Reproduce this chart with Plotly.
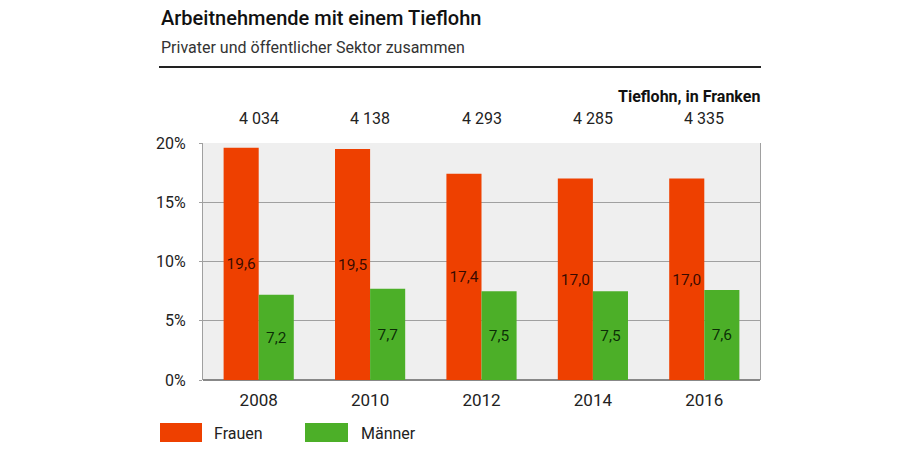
import plotly.graph_objects as go

years = ["2008", "2010", "2012", "2014", "2016"]
frauen = [19.6, 19.5, 17.4, 17.0, 17.0]
maenner = [7.2, 7.7, 7.5, 7.5, 7.6]
tieflohn = ["4 034", "4 138", "4 293", "4 285", "4 335"]
y_ticks = [0, 5, 10, 15, 20]
y_ticklabels = ["0%", "5%", "10%", "15%", "20%"]

ORANGE = "#ee4000"
GREEN = "#4caf28"
FONT = "Roboto"

def fmt(v):
    return f"{v:.1f}".replace(".", ",")

fig = go.Figure()
fig.add_trace(go.Bar(
    x=years, y=frauen, name="Frauen", marker_color=ORANGE, marker_line_width=0,
    text=[fmt(v) for v in frauen], textposition="inside", insidetextanchor="middle",
    textfont=dict(color="rgba(20,0,0,0.85)", size=16, family=FONT), textangle=0,
))
fig.add_trace(go.Bar(
    x=years, y=maenner, name="Männer", marker_color=GREEN, marker_line_width=0,
    text=[fmt(v) for v in maenner], textposition="inside", insidetextanchor="middle",
    textfont=dict(color="rgba(0,20,0,0.85)", size=16, family=FONT), textangle=0,
))

L, R, T, B = 203, 140, 143, 70
W, H = 900, 450
pw, ph = W - L - R, H - T - B

def px(xp):
    return (xp - L) / pw

def py(yp):
    return (H - B - yp) / ph

annotations = [
    dict(text="Arbeitnehmende mit einem Tieflohn", x=px(159), y=py(18), xref="paper", yref="paper",
         showarrow=False, xanchor="left", yanchor="middle",
         font=dict(size=20, family=FONT, color="#111", weight=500)),
    dict(text="Privater und öffentlicher Sektor zusammen", x=px(159), y=py(47), xref="paper", yref="paper",
         showarrow=False, xanchor="left", yanchor="middle", font=dict(size=16, family=FONT, color="#333")),
    dict(text="<b>Tieflohn, in Franken</b>", x=px(762), y=py(97), xref="paper", yref="paper",
         showarrow=False, xanchor="right", yanchor="middle", font=dict(size=16, family=FONT, color="#111")),
    dict(text="Frauen", x=px(212), y=py(433), xref="paper", yref="paper",
         showarrow=False, xanchor="left", yanchor="middle", font=dict(size=16, family=FONT, color="#222")),
    dict(text="Männer", x=px(359), y=py(433), xref="paper", yref="paper",
         showarrow=False, xanchor="left", yanchor="middle", font=dict(size=16, family=FONT, color="#222")),
]
for i, t in enumerate(tieflohn):
    annotations.append(dict(text=t, x=i, y=py(119), xref="x", yref="paper", showarrow=False,
                            xanchor="center", yanchor="middle", font=dict(size=16, family=FONT, color="#222")))

shapes = [
    dict(type="line", xref="paper", yref="paper", x0=px(159), x1=px(761), y0=py(67), y1=py(67),
         line=dict(color="#222", width=2)),
    dict(type="rect", xref="paper", yref="paper", x0=px(160), x1=px(202), y0=py(423), y1=py(442),
         fillcolor=ORANGE, line_width=0),
    dict(type="rect", xref="paper", yref="paper", x0=px(305), x1=px(348), y0=py(423), y1=py(442),
         fillcolor=GREEN, line_width=0),
]

fig.update_layout(
    width=W, height=H,
    margin=dict(l=L, r=R, t=T, b=B, pad=0),
    paper_bgcolor="white", plot_bgcolor="#efefef",
    barmode="group", bargap=0.37, bargroupgap=0,
    showlegend=False,
    font=dict(family=FONT, size=16, color="#222"),
    annotations=annotations, shapes=shapes,
    uniformtext=dict(minsize=10, mode="show"),
)
fig.update_xaxes(type="category", range=[-0.5, 4.5], showgrid=False, ticks="", showline=False,
                 ticklabelstandoff=8,
                 tickfont=dict(size=17, family=FONT, color="#222"))
fig.update_yaxes(range=[0, 20], tickvals=y_ticks, ticktext=y_ticklabels, showgrid=True,
                 gridcolor="#a0a0a0", gridwidth=1, zeroline=True, zerolinecolor="#888", zerolinewidth=1.5,
                 showline=True, mirror=True, linecolor="#a0a0a0", linewidth=1,
                 ticks="outside", ticklen=3, tickcolor="#a0a0a0", ticklabelstandoff=10,
                 tickfont=dict(size=16, family=FONT, color="#222"))

fig.write_html("out.html", config={"displayModeBar": False},
               post_script="document.body.style.margin='0';")
